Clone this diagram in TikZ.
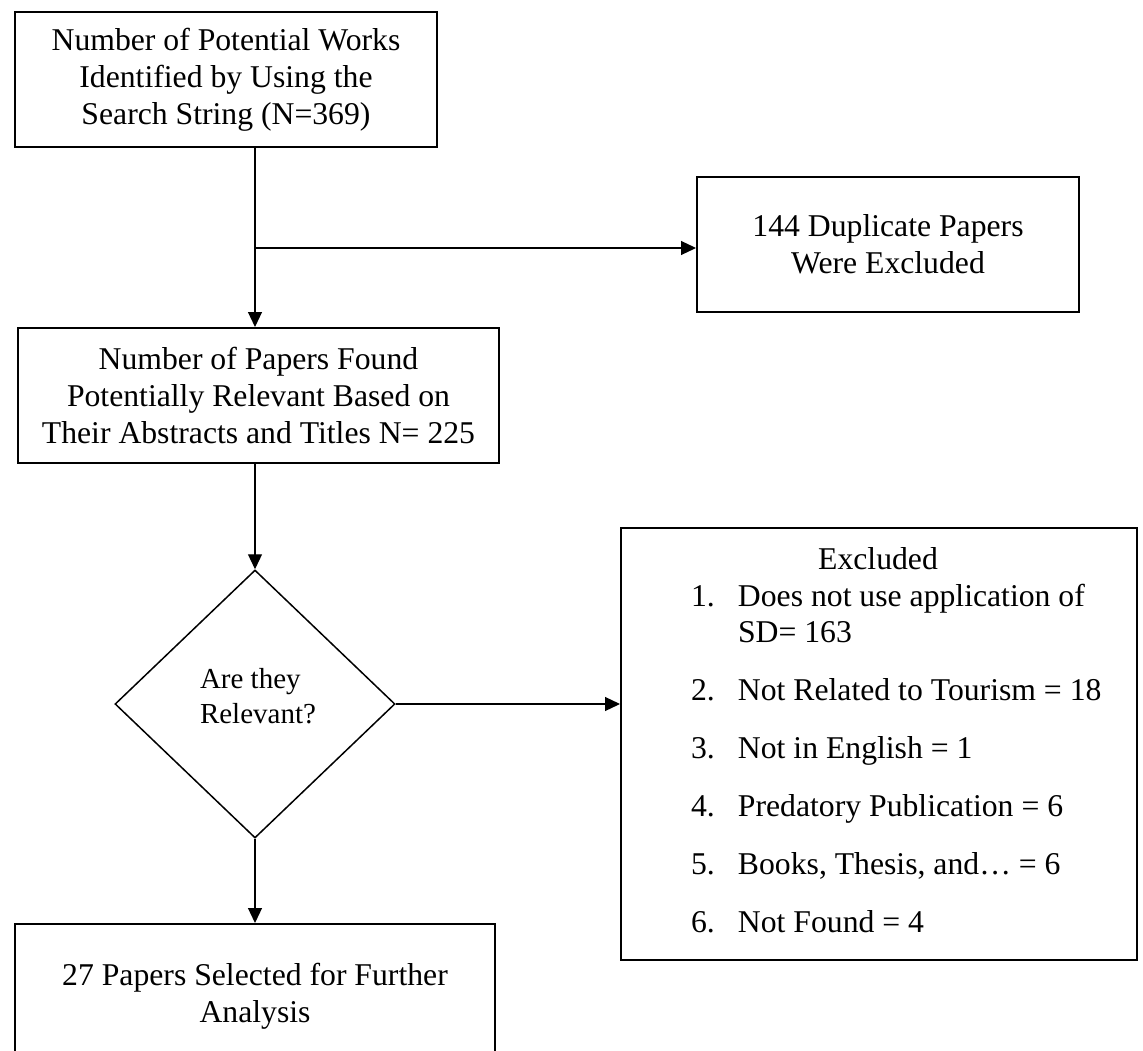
\documentclass[tikz,border=0pt]{standalone}
\usepackage{fontspec}
\setmainfont{Liberation Serif}
\usetikzlibrary{shapes.geometric,arrows.meta}

% type sizes for the flow chart
\newcommand\flowfont{\fontsize{31.7}{37}\selectfont}
\newcommand\askfont{\fontsize{29}{35}\selectfont}
\newcommand\listfont{\fontsize{31.7}{36}\selectfont}

\begin{document}
\begin{tikzpicture}[x=1pt,y=-1pt,
  stagebox/.style={draw, line width=2pt, align=center, inner sep=0pt, font=\flowfont},
  decision/.style={draw, diamond, line width=1.5pt, inner sep=0pt},
  plaintext/.style={inner sep=0pt, outer sep=0pt},
  conn/.style={line width=1.2pt, -{Triangle[length=15pt,width=14pt]}},
]
\useasboundingbox (0,0) rectangle (1143,1051);

% main column of stages
\node[stagebox, minimum width=422pt, minimum height=135pt] (search) at (226,80)
  {Number of Potential Works\\Identified by Using the\\Search String (N=369)};
\node[stagebox, minimum width=382pt, minimum height=135pt] (dupes) at (888,244.5)
  {144 Duplicate Papers\\Were Excluded};
\node[stagebox, minimum width=481pt, minimum height=135pt] (screen) at (258.5,395.5)
  {Number of Papers Found\\Potentially Relevant Based on\\Their Abstracts and Titles N= 225};
\node[decision, minimum width=280pt, minimum height=268pt] (relevant) at (255,704) {};
\node[plaintext, anchor=base west, font=\askfont] (asktext) at (200,688)
  {\begin{tabular}[t]{@{}l@{}}Are they\\Relevant?\end{tabular}};
\node[stagebox, minimum width=480pt, minimum height=144pt] (selected) at (255,996)
  {27 Papers Selected for Further\\Analysis};

% exclusion reasons
\node[draw, line width=2pt, minimum width=516pt, minimum height=432pt, inner sep=0pt] (excluded) at (879,744) {};
\node[plaintext, anchor=base, font=\flowfont] (exhead) at (878,569) {Excluded};
\node[plaintext, anchor=base west, font=\listfont] (exlist) at (691,606)
  {\begin{tabular}[t]{@{}l@{}l@{}}
   \makebox[47pt][l]{1.} & Does not use application of\\
                         & SD= 163\\[22pt]
   \makebox[47pt][l]{2.} & Not Related to Tourism = 18\\[22pt]
   \makebox[47pt][l]{3.} & Not in English = 1\\[22pt]
   \makebox[47pt][l]{4.} & Predatory Publication = 6\\[22pt]
   \makebox[47pt][l]{5.} & Books, Thesis, and… = 6\\[22pt]
   \makebox[47pt][l]{6.} & Not Found = 4
   \end{tabular}};

% connectors
\coordinate (spine) at (255,0);
\coordinate (branch) at (255,248);
\draw[conn] (search.south -| spine) -- (screen.north -| spine);
\draw[conn] (branch) -- (branch -| dupes.west);
\draw[conn] (screen.south -| spine) -- (relevant.north);
\draw[conn] (relevant.east) -- (relevant.east -| excluded.west);
\draw[conn] (relevant.south) -- (selected.north -| relevant.south);
\end{tikzpicture}
\end{document}
